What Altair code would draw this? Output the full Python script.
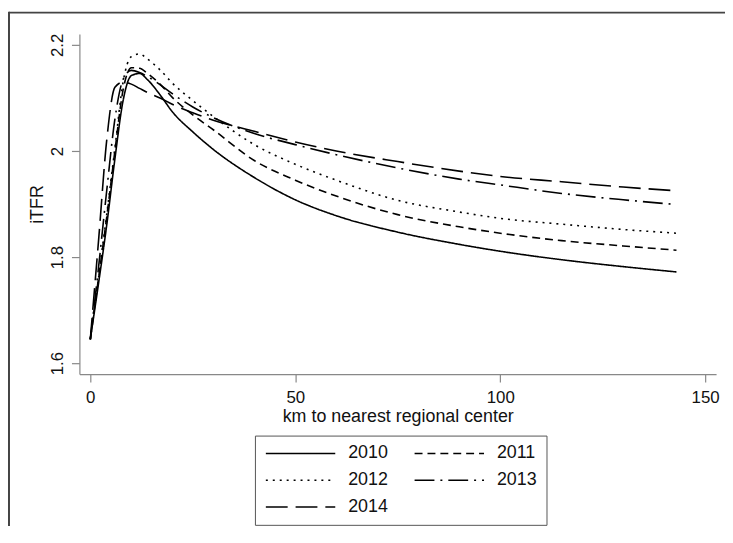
import altair as alt
import pandas as pd

km = [0, 2, 4, 6, 8, 10, 12, 14, 17, 20, 25, 30, 40, 50, 60, 75, 90, 100, 115, 130, 143]

y2010 = [1.645, 1.75, 1.86, 1.985, 2.095, 2.142, 2.146, 2.134, 2.106, 2.074, 2.036, 2.003, 1.950, 1.908,
         1.878, 1.847, 1.824, 1.811, 1.795, 1.782, 1.772]
y2011 = [1.645, 1.76, 1.875, 2.0, 2.115, 2.157, 2.156, 2.146, 2.126, 2.101, 2.068, 2.040, 1.982, 1.945,
         1.915, 1.880, 1.857, 1.845, 1.831, 1.821, 1.813]
y2012 = [1.645, 1.76, 1.88, 2.005, 2.13, 2.178, 2.183, 2.173, 2.153, 2.128, 2.095, 2.065, 2.012, 1.975,
         1.945, 1.907, 1.885, 1.873, 1.862, 1.852, 1.845]
y2013 = [1.645, 1.78, 1.925, 2.06, 2.135, 2.152, 2.148, 2.14, 2.125, 2.108, 2.083, 2.063, 2.033, 2.012,
         1.993, 1.968, 1.947, 1.936, 1.92, 1.908, 1.899]
y2014 = [1.645, 1.83, 2.02, 2.12, 2.13, 2.126, 2.118, 2.11, 2.1, 2.088, 2.072, 2.058, 2.037, 2.017,
         2.0, 1.98, 1.962, 1.952, 1.942, 1.932, 1.925]

years = ["2010", "2011", "2012", "2013", "2014"]
dashes = [[1, 0], [8, 5], [2, 5], [20, 6, 2, 6], [22, 8]]
x_ticks = [0, 50, 100, 150]
y_ticks = [1.6, 1.8, 2.0, 2.2]

rows = []
for yr, vals in zip(years, [y2010, y2011, y2012, y2013, y2014]):
    for k, v in zip(km, vals):
        rows.append({"km": k, "itfr": v, "year": yr})
df = pd.DataFrame(rows)

FONT = "Liberation Sans"

lines = alt.Chart(df).mark_line(color="black", strokeWidth=1.6, interpolate="monotone").encode(
    x=alt.X("km:Q",
            scale=alt.Scale(domain=[-2.66, 152.66], nice=False, zero=False),
            axis=alt.Axis(values=x_ticks, title="km to nearest regional center",
                          tickSize=8, labelPadding=21, labelBaseline="alphabetic",
                          titleBaseline="alphabetic", titleY=48, titleX=321)),
    y=alt.Y("itfr:Q",
            scale=alt.Scale(domain=[1.5794, 2.2206], nice=False, zero=False),
            axis=alt.Axis(values=y_ticks, format="~g", title="iTFR",
                          tickSize=8, labelPadding=9, labelAngle=270,
                          labelAlign="center", labelBaseline="alphabetic",
                          titleAngle=270, titleBaseline="alphabetic", titleAlign="center",
                          titleX=-37, titleY=171.5)),
    strokeDash=alt.StrokeDash("year:N",
                              scale=alt.Scale(domain=years, range=dashes),
                              legend=alt.Legend(title=None, orient="none", legendX=177, legendY=405,
                                                columns=2, direction="horizontal",
                                                symbolType="M-1,0H9", symbolSize=196,
                                                symbolStrokeWidth=1.6, symbolStrokeColor="black",
                                                labelOffset=67, columnPadding=22, rowPadding=9,
                                                labelFontSize=18, labelFont=FONT, labelColor="#111",
                                                padding=9, strokeColor="#555", fillColor="white")),
)

frame_top = alt.Chart(alt.Data(values=[{"a": 1}])).mark_rule(
    stroke="#444", strokeWidth=2
).encode(x=alt.value(-71), x2=alt.value(680), y=alt.value(-21.5))

frame_left = alt.Chart(alt.Data(values=[{"a": 1}])).mark_rule(
    stroke="#444", strokeWidth=2
).encode(x=alt.value(-71), y=alt.value(-22.5), y2=alt.value(520))

chart = alt.layer(frame_top, frame_left, lines).properties(
    width=642, height=343,
    padding={"left": 72, "top": 24, "right": 9, "bottom": 151},
    autosize=alt.AutoSizeParams(type="none"),
).configure_view(strokeWidth=0).configure_axis(
    grid=False, domainColor="#888", tickColor="#888", domainWidth=1.2, tickWidth=1.2,
    labelFont=FONT, labelFontSize=17, labelColor="#111",
    titleFont=FONT, titleFontSize=18, titleColor="#111", titleFontWeight="normal",
)

chart.save("out.html", embed_options={"renderer": "svg", "actions": False})
